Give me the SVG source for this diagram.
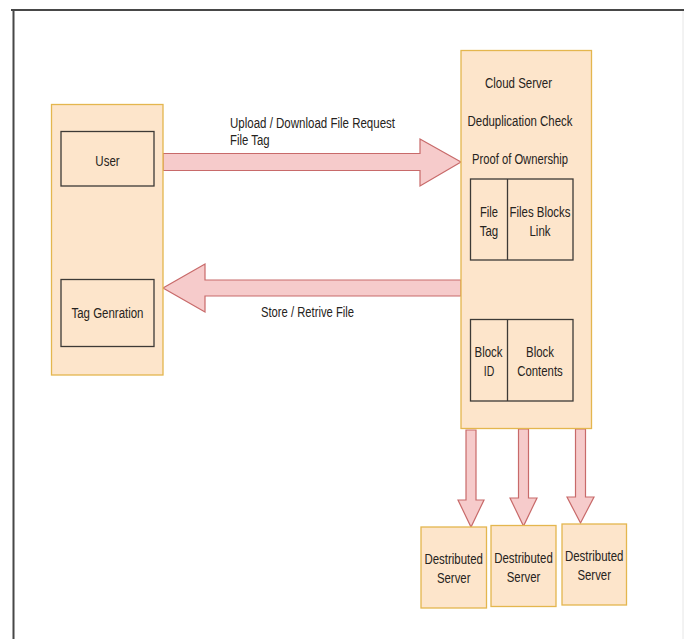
<svg xmlns="http://www.w3.org/2000/svg" width="684" height="639" viewBox="0 0 684 639">
  <style>
    .container { fill: #fde5cb; stroke: #e4b64e; stroke-width: 1.3; }
    .cell { fill: none; stroke: #3d3a36; stroke-width: 1.3; }
    .arrow { fill: #f6cbcb; stroke: #c86a6a; stroke-width: 1.2; stroke-linejoin: miter; }
    text { font-family: "Liberation Sans", Arial, sans-serif; font-size: 14px; fill: #262320; }
    .mid { text-anchor: middle; }
  </style>

  <rect width="684" height="639" fill="#ffffff"/>

  <!-- page frame -->
  <g id="frame">
    <line x1="11" y1="10" x2="684" y2="10" stroke="#474747" stroke-width="2"/>
    <line x1="13.5" y1="9" x2="13.5" y2="639" stroke="#474747" stroke-width="2"/>
    <line x1="683" y1="11" x2="683" y2="639" stroke="#e6e6e6" stroke-width="1"/>
  </g>

  <!-- connectors -->
  <g id="connectors">
    <!-- request: user -> cloud server -->
    <path class="arrow" d="M163,153.5 H420 V139 L461,162 L420,186 V170.5 H163 Z"/>
    <!-- response: cloud server -> user -->
    <path class="arrow" d="M461,280 H205 V264 L163,288 L205,312 V296 H461 Z"/>
    <!-- cloud server -> distributed servers -->
    <path class="arrow" d="M466,430 H476 V500 H484 L471,527 L458,500 H466 Z"/>
    <path class="arrow" d="M518.5,429 H528.5 V498 H537 L523.5,526 L510,498 H518.5 Z"/>
    <path class="arrow" d="M575.5,429 H585.5 V497 H594 L580.5,523 L567,497 H575.5 Z"/>
  </g>

  <g id="user-side">
    <rect class="container" x="51.5" y="104.5" width="111.5" height="270.5"/>
    <g id="user">
      <rect class="cell" x="61" y="131.5" width="93" height="54.5"/>
      <text class="mid" x="107.5" y="165.5" textLength="24.3" lengthAdjust="spacingAndGlyphs">User</text>
    </g>
    <g id="tag-generation">
      <rect class="cell" x="61" y="279.5" width="93" height="67"/>
      <text class="mid" x="107.5" y="318" textLength="72" lengthAdjust="spacingAndGlyphs">Tag Genration</text>
    </g>
  </g>

  <g id="labels">
    <text x="230" y="127.5" textLength="165" lengthAdjust="spacingAndGlyphs">Upload / Download File Request</text>
    <text x="230" y="145" textLength="39.5" lengthAdjust="spacingAndGlyphs">File Tag</text>
    <text x="261" y="317" textLength="93" lengthAdjust="spacingAndGlyphs">Store / Retrive File</text>
  </g>

  <g id="cloud-server">
    <rect class="container" x="461" y="50.5" width="130.5" height="378"/>
    <text class="mid" x="518.5" y="87.5" textLength="67" lengthAdjust="spacingAndGlyphs">Cloud Server</text>
    <text class="mid" x="520" y="126" textLength="105" lengthAdjust="spacingAndGlyphs">Deduplication Check</text>
    <text class="mid" x="520" y="164" textLength="96" lengthAdjust="spacingAndGlyphs">Proof of Ownership</text>
    <g id="file-table">
      <rect class="cell" x="470.5" y="179" width="102.5" height="81"/>
      <line class="cell" x1="507.5" y1="179" x2="507.5" y2="260"/>
      <text class="mid" x="489" y="217" textLength="18" lengthAdjust="spacingAndGlyphs">File</text>
      <text class="mid" x="489" y="236" textLength="18.5" lengthAdjust="spacingAndGlyphs">Tag</text>
      <text class="mid" x="540" y="217" textLength="61" lengthAdjust="spacingAndGlyphs">Files Blocks</text>
      <text class="mid" x="540" y="236" textLength="21" lengthAdjust="spacingAndGlyphs">Link</text>
    </g>
    <g id="block-table">
      <rect class="cell" x="470.5" y="319.5" width="102.5" height="81.5"/>
      <line class="cell" x1="507.5" y1="319.5" x2="507.5" y2="401"/>
      <text class="mid" x="488.5" y="357" textLength="28" lengthAdjust="spacingAndGlyphs">Block</text>
      <text class="mid" x="489" y="375.5" textLength="10.5" lengthAdjust="spacingAndGlyphs">ID</text>
      <text class="mid" x="540" y="357" textLength="28" lengthAdjust="spacingAndGlyphs">Block</text>
      <text class="mid" x="540" y="375.5" textLength="45.5" lengthAdjust="spacingAndGlyphs">Contents</text>
    </g>
  </g>

  <g id="distributed-server-1">
    <rect class="container" x="421" y="527" width="65.5" height="81"/>
    <text class="mid" x="453.7" y="564" textLength="58.5" lengthAdjust="spacingAndGlyphs">Destributed</text>
    <text class="mid" x="453.7" y="582.5" textLength="33.5" lengthAdjust="spacingAndGlyphs">Server</text>
  </g>
  <g id="distributed-server-2">
    <rect class="container" x="491" y="525.5" width="65" height="81"/>
    <text class="mid" x="523.5" y="562.5" textLength="58.5" lengthAdjust="spacingAndGlyphs">Destributed</text>
    <text class="mid" x="523.5" y="581.5" textLength="33.5" lengthAdjust="spacingAndGlyphs">Server</text>
  </g>
  <g id="distributed-server-3">
    <rect class="container" x="562" y="524" width="64.5" height="81"/>
    <text class="mid" x="594.2" y="561.3" textLength="58.5" lengthAdjust="spacingAndGlyphs">Destributed</text>
    <text class="mid" x="594.2" y="580" textLength="33.5" lengthAdjust="spacingAndGlyphs">Server</text>
  </g>
</svg>
